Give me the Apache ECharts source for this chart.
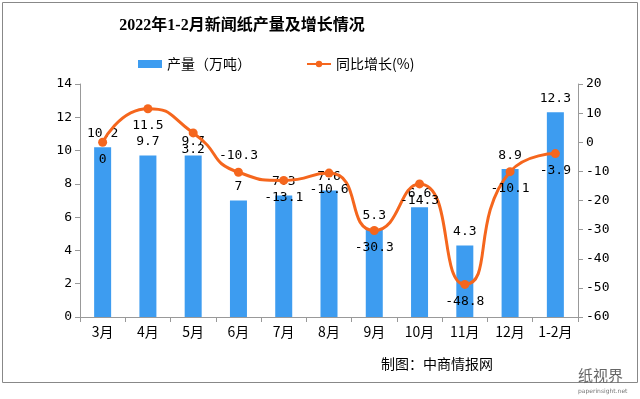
<!DOCTYPE html>
<html>
<head>
<meta charset="utf-8">
<script src="https://cdn.jsdelivr.net/npm/echarts@6/dist/echarts.min.js"></script>
<style>
  html, body { margin: 0; padding: 0; background: #fff; }
  #main { width: 640px; height: 399px; }
</style>
</head>
<body>
<div id="main"></div>
<script>
var months = ['3月', '4月', '5月', '6月', '7月', '8月', '9月', '10月', '11月', '12月', '1-2月'];
var output = [10.2, 9.7, 9.7, 7, 7.3, 7.6, 5.3, 6.6, 4.3, 8.9, 12.3];
var growth = [0, 11.5, 3.2, -10.3, -13.1, -10.6, -30.3, -14.3, -48.8, -10.1, -3.9];

var numFont = 'DejaVu Sans Mono';
var cjkFont = 'Noto Sans CJK SC';

var myChart = echarts.init(document.getElementById('main'));

var option = {
    animation: false,
    title: {
        text: '2022年1-2月新闻纸产量及增长情况',
        left: 237,
        textAlign: 'center',
        top: 13,
        textStyle: {
            fontFamily: 'Liberation Serif, Noto Sans CJK SC',
            fontSize: 16,
            fontWeight: 'bold',
            color: '#000'
        }
    },
    legend: {
        top: 52,
        left: 133,
        itemGap: 55,
        itemWidth: 24,
        itemHeight: 8,
        textStyle: { fontFamily: cjkFont, fontSize: 14, color: '#000' },
        data: [
            { name: '产量（万吨）', icon: 'rect' },
            { name: '同比增长(%)' }
        ]
    },
    grid: {
        left: 80,
        right: 62,
        top: 84,
        bottom: 82
    },
    xAxis: {
        type: 'category',
        data: months,
        axisLine: { lineStyle: { color: '#999' } },
        axisTick: { show: true, lineStyle: { color: '#999' } },
        axisLabel: { color: '#000', fontSize: 14, fontFamily: cjkFont, margin: 8 }
    },
    yAxis: [
        {
            type: 'value',
            min: 0,
            max: 14,
            interval: 2,
            axisLine: { show: true, lineStyle: { color: '#999' } },
            axisTick: { show: true, lineStyle: { color: '#999' } },
            splitLine: { show: false },
            axisLabel: { color: '#000', fontSize: 13, fontFamily: numFont }
        },
        {
            type: 'value',
            min: -60,
            max: 20,
            interval: 10,
            axisLine: { show: true, lineStyle: { color: '#999' } },
            axisTick: { show: true, lineStyle: { color: '#999' } },
            splitLine: { show: false },
            axisLabel: { color: '#000', fontSize: 13, fontFamily: numFont }
        }
    ],
    series: [
        {
            name: '产量（万吨）',
            type: 'bar',
            data: output,
            barWidth: 17,
            itemStyle: { color: '#3d9cf0' },
            label: {
                show: true,
                position: 'top',
                distance: 7,
                color: '#000',
                fontSize: 13,
                fontFamily: numFont
            }
        },
        {
            name: '同比增长(%)',
            type: 'line',
            yAxisIndex: 1,
            smooth: 0.6,
            symbol: 'circle',
            symbolSize: 9,
            lineStyle: { color: '#f5661d', width: 3 },
            itemStyle: { color: '#f5661d' },
            data: growth.map(function (v, i) {
                return {
                    value: v,
                    label: { position: i === 3 ? 'top' : 'bottom' }
                };
            }),
            label: {
                show: true,
                distance: 6,
                color: '#000',
                fontSize: 13,
                fontFamily: numFont
            }
        }
    ],
    graphic: [
        {
            type: 'rect',
            shape: { x: 2.5, y: 2.5, width: 635, height: 380 },
            style: { fill: 'none', stroke: '#888', lineWidth: 1 },
            silent: true
        },
        {
            type: 'text',
            left: 381,
            top: 357,
            style: { text: '制图：中商情报网', fontFamily: cjkFont, fontSize: 14, fill: '#000' }
        },
        {
            type: 'text',
            left: 578,
            top: 368,
            style: { text: '纸视界', fontFamily: cjkFont, fontSize: 15, fill: '#666' }
        },
        {
            type: 'text',
            left: 578,
            top: 388,
            style: { text: 'paperinsight.net', fontFamily: 'DejaVu Sans', fontSize: 6, fill: '#777' }
        }
    ]
};
myChart.setOption(option);
</script>
</body>
</html>
